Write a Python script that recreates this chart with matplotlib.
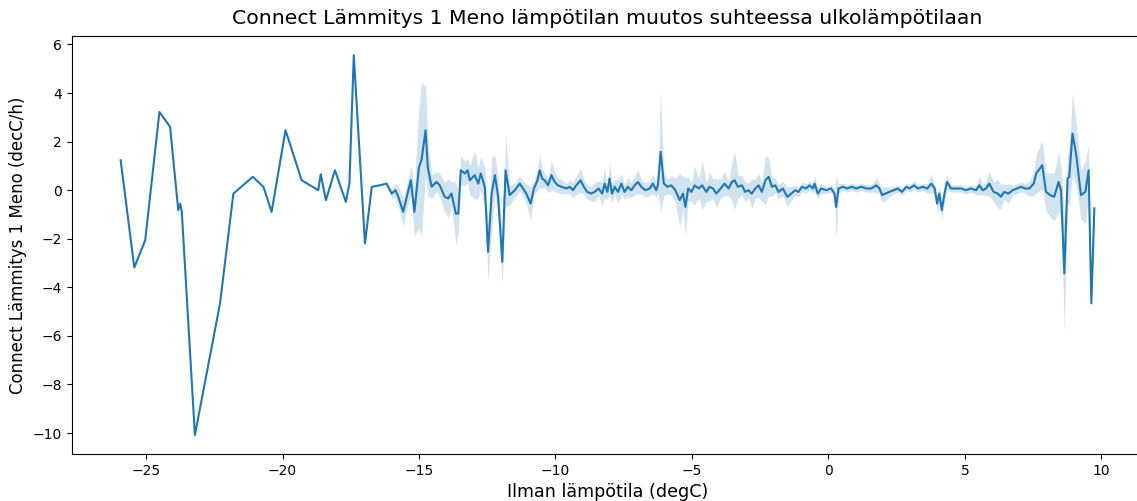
import numpy as np
import matplotlib
matplotlib.use('Agg')
import matplotlib.pyplot as plt

# outdoor temperature (degC)
temp = [-25.93, -25.43, -25.03, -24.51, -24.12, -23.82, -23.75, -23.69, -23.21, -22.29,
        -21.80, -21.09, -20.70, -20.40, -19.89, -19.30, -18.69, -18.60, -18.41, -18.08,
        -17.68, -17.55, -17.39, -16.98, -16.73, -16.45, -16.19,
        -16.00, -15.86, -15.76, -15.58, -15.42, -15.30, -15.17, -15.00, -14.91, -14.76,
        -14.68, -14.54, -14.36, -14.24, -14.06, -13.93, -13.81, -13.65, -13.56, -13.47,
        -13.32, -13.22, -13.14, -12.96, -12.83, -12.74, -12.59, -12.47, -12.34, -12.22,
        -12.10, -11.95, -11.83, -11.68, -11.49, -11.31, -11.19, -11.07, -10.91, -10.79,
        -10.66, -10.58, -10.49, -10.40, -10.27, -10.15, -10.03, -9.91, -9.78, -9.60,
        -9.48, -9.36, -9.24, -9.08, -8.96, -8.84, -8.69, -8.57, -8.42, -8.29,
        -8.20, -8.10, -8.02, -7.93, -7.83, -7.71, -7.59, -7.47, -7.35, -7.22,
        -7.10, -6.98, -6.86, -6.71, -6.55, -6.43, -6.31, -6.25, -6.15, -6.03,
        -5.90, -5.76, -5.61, -5.45, -5.33, -5.24, -5.14, -5.02, -4.90, -4.75,
        -4.63, -4.47, -4.36, -4.23, -4.11, -3.95, -3.81, -3.66, -3.54, -3.44,
        -3.32, -3.17, -3.05, -2.93, -2.81, -2.68, -2.56, -2.44, -2.31, -2.19,
        -2.07, -1.95, -1.83, -1.67, -1.51, -1.36, -1.22, -1.10, -0.97, -0.82,
        -0.70, -0.57, -0.51, -0.39, -0.27, -0.08, 0.10, 0.22, 0.28, 0.37,
        0.53, 0.69, 0.84, 1.02, 1.20, 1.38, 1.57, 1.75, 1.87, 1.96,
        2.08, 2.23, 2.39, 2.54, 2.69, 2.85, 2.97, 3.13, 3.28, 3.46,
        3.62, 3.77, 3.89, 3.98, 4.06, 4.15, 4.25, 4.34, 4.49, 4.67,
        4.86, 5.04, 5.22, 5.41, 5.53, 5.65, 5.77, 5.89, 6.05, 6.20,
        6.32, 6.44, 6.59, 6.75, 6.91, 7.06, 7.20, 7.36, 7.52, 7.61,
        7.83, 7.97, 8.12, 8.27, 8.43, 8.52, 8.64, 8.76, 8.82, 8.94,
        9.07, 9.25, 9.41, 9.53, 9.63, 9.74]

# mean change of supply temperature (degC/h)
change = [1.23, -3.18, -2.06, 3.22, 2.61, -0.82, -0.55, -0.89, -10.08, -4.66,
          -0.14, 0.55, 0.14, -0.89, 2.47, 0.41, 0.00, 0.66, -0.41, 0.82,
          -0.48, 0.27, 5.56, -2.19, 0.14, 0.20, 0.27,
          -0.14, 0.00, -0.27, -0.89, -0.14, 0.41, -0.89, 0.96, 1.23, 2.47,
          0.96, 0.14, 0.34, 0.20, -0.27, -0.34, -0.14, -0.96, -0.96, 0.82,
          0.69, 0.82, 0.41, 0.62, 0.27, 0.69, 0.14, -2.54, -0.14, 0.62,
          -0.27, -2.95, 0.82, -0.20, 0.00, 0.27, 0.07, -0.14, -0.55, 0.07,
          0.41, 0.82, 0.48, 0.41, 0.20, 0.62, 0.34, 0.20, 0.14, 0.07,
          0.14, 0.00, 0.20, 0.41, 0.14, -0.07, -0.14, -0.07, 0.07, -0.14,
          0.27, -0.07, 0.48, -0.14, 0.14, -0.07, 0.27, -0.07, 0.14, 0.00,
          0.20, 0.34, 0.14, 0.00, 0.07, 0.27, 0.00, 0.20, 1.58, 0.27,
          0.14, 0.20, 0.00, -0.41, -0.14, -0.69, 0.07, -0.07, 0.20, 0.07,
          0.20, -0.07, 0.14, 0.07, -0.14, 0.07, 0.27, 0.07, 0.34, 0.41,
          0.14, 0.20, -0.07, 0.00, -0.14, 0.07, 0.20, -0.07, 0.41, 0.55,
          0.14, 0.20, -0.07, 0.07, -0.27, -0.14, 0.00, -0.07, 0.14, 0.07,
          0.20, 0.07, 0.27, -0.14, 0.07, 0.00, 0.07, -0.14, -0.69, 0.07,
          0.14, 0.07, 0.14, 0.07, 0.14, 0.07, 0.07, 0.20, 0.07, -0.20,
          -0.14, -0.07, 0.00, 0.07, -0.07, 0.14, 0.07, 0.20, 0.07, 0.14,
          0.07, 0.27, 0.07, -0.55, -0.14, -0.82, -0.14, 0.34, 0.07, 0.07,
          0.07, 0.00, 0.07, 0.00, 0.20, 0.00, 0.07, 0.27, -0.07, -0.14,
          -0.27, -0.07, -0.14, 0.00, 0.07, 0.14, 0.07, 0.07, 0.27, 0.69,
          1.03, -0.07, -0.20, -0.27, 0.34, 0.00, -3.43, 0.48, 0.55, 2.33,
          1.51, -0.20, -0.07, 0.82, -4.66, -0.75]

# half width of the confidence band
spread = [0, 0, 0, 0, 0, 0, 0, 0, 0, 0,
          0, 0, 0, 0, 0, 0, 0, 0, 0, 0,
          0, 0, 0, 0, 0, 0, 0,
          0.2, 0.3, 0.4, 0.6, 0.5, 0.6, 1.0, 2.5, 3.2, 1.8,
          1.2, 0.5, 0.4, 0.5, 0.6, 0.8, 0.5, 1.3, 0.8, 0.6,
          0.5, 0.5, 0.6, 1.0, 0.6, 0.7, 0.8, 1.2, 1.5, 0.8,
          0.8, 0.9, 1.5, 0.4, 0.3, 0.3, 0.3, 0.4, 0.7, 0.3,
          0.4, 0.7, 0.4, 0.3, 0.3, 0.6, 0.4, 0.3, 0.3, 0.2,
          0.3, 0.3, 0.4, 0.5, 0.3, 0.3, 0.3, 0.4, 0.3, 0.5,
          0.6, 0.3, 0.7, 0.4, 0.3, 0.5, 0.4, 0.3, 0.4, 0.3,
          0.4, 0.5, 0.3, 0.3, 0.3, 0.4, 0.3, 0.3, 2.5, 0.5,
          0.3, 0.4, 0.5, 1.1, 0.7, 1.2, 0.5, 0.4, 0.8, 0.4,
          1.0, 0.4, 0.6, 0.4, 0.6, 0.4, 0.5, 0.3, 0.8, 1.2,
          0.5, 0.4, 0.4, 0.3, 0.6, 0.4, 0.5, 0.4, 1.0, 0.8,
          0.4, 0.3, 0.3, 0.3, 0.4, 0.3, 0.2, 0.2, 0.2, 0.2,
          0.2, 0.2, 0.3, 0.2, 0.2, 0.15, 0.15, 0.2, 1.3, 0.2,
          0.15, 0.15, 0.15, 0.15, 0.15, 0.15, 0.15, 0.3, 0.2, 0.3,
          0.3, 0.2, 0.15, 0.15, 0.15, 0.15, 0.15, 0.2, 0.15, 0.15,
          0.2, 0.4, 0.2, 0.4, 0.3, 0.4, 0.3, 0.3, 0.15, 0.15,
          0.15, 0.15, 0.15, 0.2, 0.4, 0.2, 0.3, 0.5, 0.4, 0.6,
          0.5, 0.3, 0.4, 0.2, 0.2, 0.2, 0.2, 0.3, 0.5, 0.8,
          1.0, 0.8, 0.9, 1.0, 1.2, 1.0, 2.4, 1.0, 1.2, 1.7,
          1.3, 1.0, 1.3, 1.0, 0.3, 0.3]

x = np.array(temp)
y = np.array(change)
s = np.array(spread)

fig = plt.figure(figsize=(11.37, 5.01), dpi=100)
ax = fig.add_axes([0.0633, 0.0938, 0.942, 0.834])

ax.fill_between(x, y - s, y + s, color='#1f77b4', alpha=0.2, linewidth=0)
ax.plot(x, y, color='#1f77b4', linewidth=1.5)

ax.set_title('Connect Lämmitys 1 Meno lämpötilan muutos suhteessa ulkolämpötilaan',
             fontsize=14.7, pad=9)
ax.set_xlabel('Ilman lämpötila (degC)', fontsize=12.6)
ax.set_ylabel('Connect Lämmitys 1 Meno (decC/h)', fontsize=12)

fig.savefig('out.png', dpi=100)
